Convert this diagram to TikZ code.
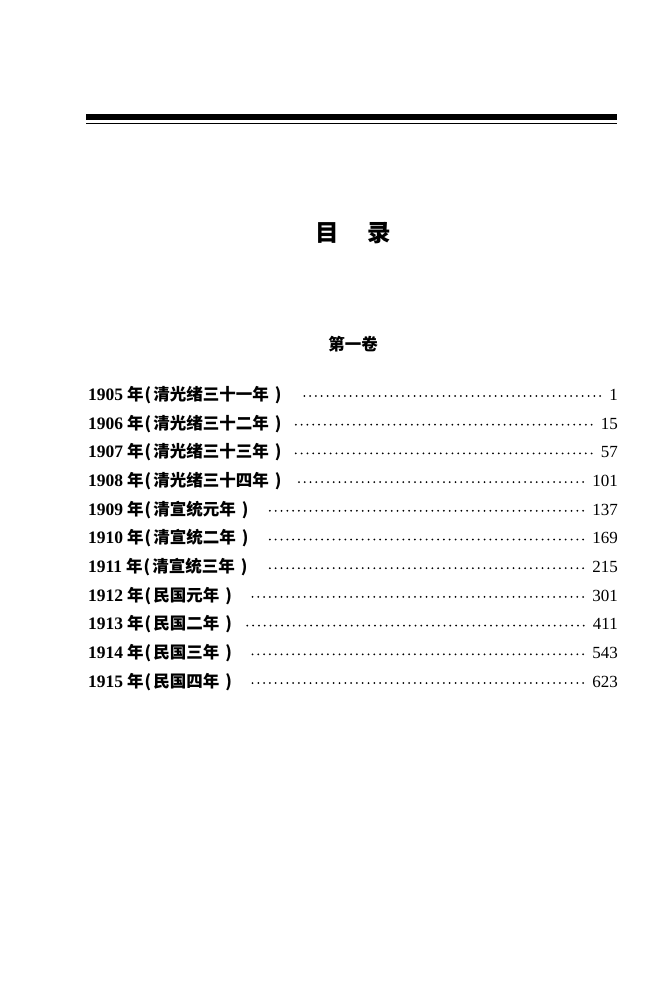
\documentclass[tikz,border=0pt]{standalone}
\usepackage{fontspec}
\setmainfont{Liberation Serif}
\newfontfamily\cjk{Noto Sans CJK SC}
\usetikzlibrary{calc}
\tikzset{
  titlebox/.style={inner sep=0pt, font=\fontsize{23.5}{26}\selectfont\cjk\bfseries},
  volbox/.style={inner sep=0pt, font=\fontsize{16.5}{19}\selectfont\cjk\bfseries},
  entry/.style={anchor=base west, inner sep=0pt, font=\fontsize{17.5}{20}\selectfont},
  pnum/.style={anchor=base east, inner sep=0pt, font=\fontsize{17}{20}\selectfont},
  leader/.style={line width=2pt, line cap=round, dash pattern=on 0pt off 5.8pt}
}
\begin{document}
\begin{tikzpicture}[x=1pt,y=-1pt]
\useasboundingbox[fill=white] (0,0) rectangle (646,1000);
% top rules
\draw[line width=6pt] (86,117) -- (617,117);
\draw[line width=1.5pt] (86,123.3) -- (617,123.3);
% titles
\node[titlebox] (title) at (353,233) {目\hspace{29pt}录};
\node[volbox] (vol) at (353,344) {第一卷};
% entries
\foreach \i/\yr/\nm/\pg/\gp in {
  0/1905/清光绪三十一年/1/19,
  1/1906/清光绪三十二年/15/10,
  2/1907/清光绪三十三年/57/10,
  3/1908/清光绪三十四年/101/17,
  4/1909/清宣统元年/137/18,
  5/1910/清宣统二年/169/18,
  6/1911/清宣统三年/215/18,
  7/1912/民国元年/301/15,
  8/1913/民国二年/411/15,
  9/1914/民国三年/543/15,
  10/1915/民国四年/623/15}{
  \pgfmathsetmacro\by{400.3+28.7*\i}
  \node[entry] (t\i) at (88,\by) {\textbf{\yr}\hspace{4pt}{\cjk\bfseries\fontsize{16.5}{20}\selectfont 年\hspace{1pt}(\hspace{2pt}\nm\hspace{6pt})}};
  \node[pnum] (p\i) at (618,\by) {\pg};
  \draw[leader] ($(p\i.base west)+(-9,-4.3)$) -- ($(t\i.base east)+(\gp,-4.3)$);
}
\end{tikzpicture}
\end{document}
